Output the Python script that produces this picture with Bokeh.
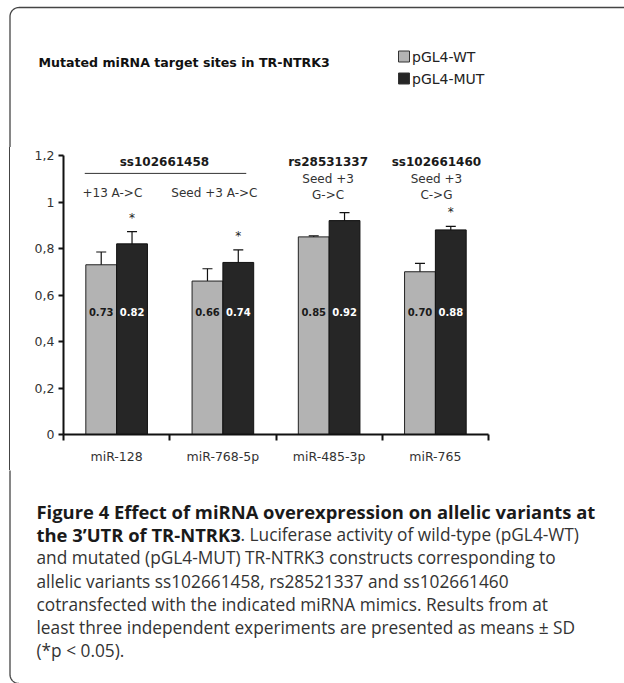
import numpy as np
from bokeh.plotting import figure
from bokeh.layouts import column, row
from bokeh.models import (Range1d, FixedTicker, Label, Whisker, ColumnDataSource, TeeHead, Div)
from bokeh.core.properties import value
from bokeh.embed import file_html
from bokeh.resources import INLINE

# ---- data ----
categories = ["miR-128", "miR-768-5p", "miR-485-3p", "miR-765"]
wt_values = [0.73, 0.66, 0.85, 0.70]
mut_values = [0.82, 0.74, 0.92, 0.88]
wt_sd = [0.055, 0.053, 0.004, 0.036]
mut_sd = [0.053, 0.054, 0.034, 0.015]
significant = [True, True, False, True]
y_ticks = [0, 0.2, 0.4, 0.6, 0.8, 1.0, 1.2]
y_tick_labels = ["0", "0,2", "0,4", "0,6", "0,8", "1", "1,2"]
series_names = ["pGL4-WT", "pGL4-MUT"]
series_colors = ["#b3b3b3", "#262626"]

FONT = "DejaVu Sans"
CAP_FONT = "Open Sans"
BORDER = "#444444"
TOTAL_W, TOP_H, MID_H, BOT_H = 624, 147, 323, 213
STRIP_W = 20


def blank(width, height, y0, y1):
    f = figure(width=width, height=height, x_range=Range1d(0, width), y_range=Range1d(y1, y0),
               output_backend="svg", toolbar_location=None, min_border=0)
    f.axis.visible = False
    f.grid.visible = False
    f.outline_line_color = None
    f.border_fill_color = "white"
    return f


# ---------------- top panel: frame corner, title, legend ----------------
top = blank(TOTAL_W, TOP_H, 0, TOP_H)
t = np.linspace(0, np.pi / 2, 20)
cx, cy, r = 18.5, 16.0, 9.0
bx = np.concatenate([[9.5], cx - r * np.cos(t), [TOTAL_W]])
by = np.concatenate([[TOP_H + 2], cy - r * np.sin(t), [7.0]])
top.line(bx, by, line_color=BORDER, line_width=1.3)
top.text(x=[38], y=[62], text=["Mutated miRNA target sites in TR-NTRK3"], text_font=value(FONT),
         text_font_style="bold", text_font_size="12.6px", text_color="#111111",
         text_baseline="middle")
leg_y = [56, 78]
top.rect(x=[403.5] * 2, y=leg_y, width=11, height=11, fill_color=series_colors,
         line_color="#333333", line_width=1)
top.text(x=[411.5] * 2, y=leg_y, text=series_names, text_font=value(FONT), text_font_size="14px",
         text_color="#222222", text_baseline="middle")

# ---------------- middle: border strip + chart ----------------
strip = Div(text='<div style="position:absolute;left:9px;top:0px;width:1.3px;height:%dpx;'
                 'background:%s"></div>' % (MID_H, BORDER),
            width=STRIP_W, height=MID_H, margin=0)

p = figure(width=TOTAL_W - STRIP_W, height=MID_H, x_range=Range1d(0, 4), y_range=Range1d(0, 1.2),
           output_backend="svg", toolbar_location=None,
           min_border_left=63 - STRIP_W, min_border_right=TOTAL_W - 488,
           min_border_top=155 - TOP_H, min_border_bottom=TOP_H + MID_H - 434)
p.grid.visible = False
p.outline_line_color = None
p.border_fill_color = "white"

p.yaxis.ticker = FixedTicker(ticks=y_ticks, minor_ticks=[])
p.yaxis.major_label_overrides = {tk: lb for tk, lb in zip(y_ticks, y_tick_labels)}
p.xaxis.ticker = FixedTicker(ticks=[i + 0.5 for i in range(len(categories))],
                             minor_ticks=list(range(len(categories) + 1)))
p.xaxis.major_label_overrides = {i + 0.5: c for i, c in enumerate(categories)}
for ax in (p.xaxis, p.yaxis):
    ax.axis_line_width = 2
    ax.axis_line_color = "#111111"
    ax.major_label_text_font = FONT
    ax.major_label_text_color = "#333333"
    ax.major_label_text_font_size = "12.5px"
p.yaxis.major_tick_out = 5
p.yaxis.major_tick_in = 0
p.yaxis.major_tick_line_width = 2
p.yaxis.major_tick_line_color = "#111111"
p.yaxis.major_label_standoff = 4
p.xaxis.major_tick_line_color = None
p.xaxis.major_tick_out = 0
p.xaxis.major_tick_in = 0
p.xaxis.minor_tick_out = 6
p.xaxis.minor_tick_in = 0
p.xaxis.minor_tick_line_width = 2
p.xaxis.minor_tick_line_color = "#111111"
p.xaxis.major_label_standoff = 8

idx = np.arange(len(categories))
bw = 0.29
x_wt = idx + 0.5 - bw / 2
x_mut = idx + 0.5 + bw / 2
wt = np.array(wt_values)
mut = np.array(mut_values)
p.vbar(x=x_wt, top=wt, width=bw, fill_color=series_colors[0], line_color="#222222", line_width=1)
p.vbar(x=x_mut, top=mut, width=bw, fill_color=series_colors[1], line_color="#111111", line_width=1)

src = ColumnDataSource(dict(
    x=np.concatenate([x_wt, x_mut]),
    lo=np.concatenate([wt - np.array(wt_sd), mut - np.array(mut_sd)]),
    hi=np.concatenate([wt + np.array(wt_sd), mut + np.array(mut_sd)]),
))
p.add_layout(Whisker(source=src, base="x", lower="lo", upper="hi", line_color="#111111",
                     line_width=1.2,
                     upper_head=TeeHead(size=10, line_color="#111111", line_width=1.2),
                     lower_head=TeeHead(size=10, line_color="#111111", line_width=1.2)))

lab_y = 0.526
p.text(x=x_wt, y=[lab_y] * len(wt), text=[f"{v:.2f}" for v in wt_values],
       text_font=value(FONT), text_font_style="bold", text_font_size="10px",
       text_color="#1a1a1a", text_align="center", text_baseline="middle")
p.text(x=x_mut, y=[lab_y] * len(mut), text=[f"{v:.2f}" for v in mut_values],
       text_font=value(FONT), text_font_style="bold", text_font_size="10px",
       text_color="white", text_align="center", text_baseline="middle")

star_x = [x for x, s in zip(x_mut, significant) if s]
star_y = [v + e + 0.06 for v, e, s in zip(mut_values, mut_sd, significant) if s]
p.text(x=star_x, y=star_y, text=["*"] * len(star_x), text_font=value(FONT),
       text_font_size="12px", text_color="#222222", text_align="center",
       text_baseline="middle")


def dlabel(x, y, txt, bold=False):
    p.add_layout(Label(x=x, y=y, text=txt, text_font=FONT, text_font_size="12px",
                       text_font_style="bold" if bold else "normal",
                       text_color="#1a1a1a" if bold else "#333333",
                       text_align="center", text_baseline="middle"))


dlabel(0.95, 1.17, "ss102661458", True)
p.segment(x0=[0.2], y0=[1.123], x1=[1.72], y1=[1.123], line_color="#333333", line_width=1)
dlabel(0.46, 1.04, "+13 A->C")
dlabel(1.42, 1.04, "Seed +3 A->C")
dlabel(2.49, 1.17, "rs28531337", True)
dlabel(2.49, 1.10, "Seed +3")
dlabel(2.49, 1.028, "G->C")
dlabel(3.51, 1.17, "ss102661460", True)
dlabel(3.51, 1.10, "Seed +3")
dlabel(3.51, 1.028, "C->G")

# ---------------- bottom: caption ----------------
y_off = TOP_H + MID_H
bot = blank(TOTAL_W, BOT_H, y_off, y_off + BOT_H)
cy2 = 674.0
bx2 = np.concatenate([[9.5], cx - r * np.cos(t)])
by2 = np.concatenate([[y_off - 2], cy2 + r * np.sin(t)])
bot.line(bx2, by2, line_color=BORDER, line_width=1.3)

cap_lines = [
    [("Figure 4 Effect of miRNA overexpression on allelic variants at", True)],
    [("the 3\u2019UTR of TR-NTRK3", True), (". Luciferase activity of wild-type (pGL4-WT)", False)],
    [("and mutated (pGL4-MUT) TR-NTRK3 constructs corresponding to", False)],
    [("allelic variants ss102661458, rs28521337 and ss102661460", False)],
    [("cotransfected with the indicated miRNA mimics. Results from at", False)],
    [("least three independent experiments are presented as means \u00b1 SD", False)],
    [("(*p < 0.05).", False)],
]
for i, parts in enumerate(cap_lines):
    yy = 511 + 23.2 * i
    xx = 36
    for txt, b in parts:
        bot.text(x=[xx], y=[yy], text=[txt], text_font=value(CAP_FONT),
                 text_font_style="bold" if b else "normal",
                 text_font_size="18.4px" if b else "17.3px",
                 text_color="#1a1a1a" if b else "#333333", text_baseline="middle")
        xx = 240

layout = column(top, row(strip, p), bot)
open("out.html", "w").write(file_html(layout, INLINE))
